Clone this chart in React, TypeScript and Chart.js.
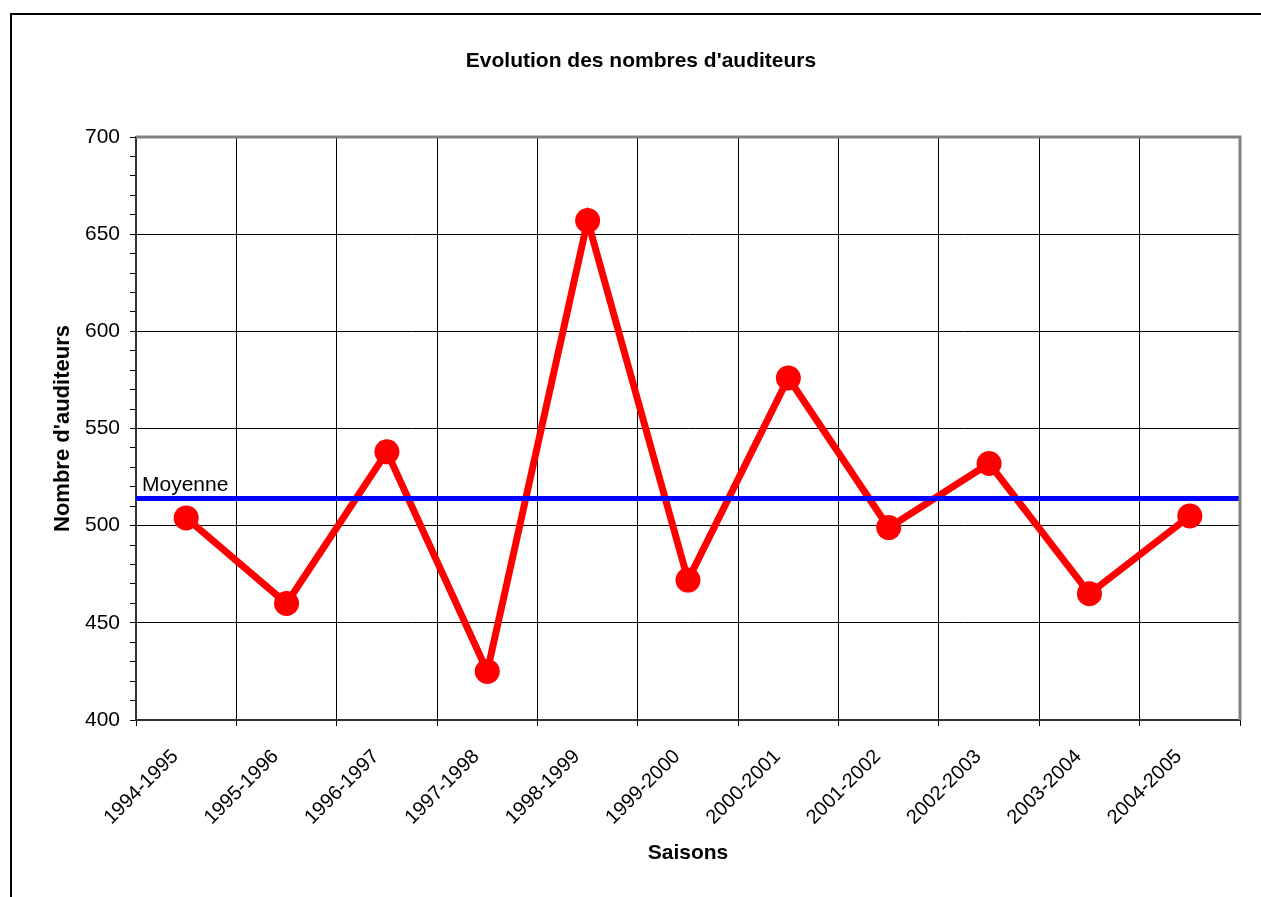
import React, { useEffect, useRef } from "react";
import { Chart, registerables } from "chart.js";

Chart.register(...registerables);

const seasons = [
  "1994-1995", "1995-1996", "1996-1997", "1997-1998", "1998-1999", "1999-2000",
  "2000-2001", "2001-2002", "2002-2003", "2003-2004", "2004-2005",
];
const listeners = [504, 460, 538, 425, 657, 472, 576, 499, 532, 465, 505];
const meanValue = 514;
const meanSpan = [0, 1];
const chartTitle = "Evolution des nombres d'auditeurs";
const meanLabel = "Moyenne";
const yTitle = "Nombre d'auditeurs";
const xTitle = "Saisons";
const yMin = 400;
const yMax = 700;
const yMinorStep = 10;
const yMajorStep = 50;

const FONT = "'Liberation Sans', Arial, sans-serif";

const decorPlugin = {
  id: "decor",
  beforeDraw(chart: any) {
    const ctx = chart.ctx;
    ctx.save();
    ctx.fillStyle = "#fff";
    ctx.fillRect(0, 0, chart.width, chart.height);
    ctx.restore();
  },
  afterDatasetsDraw(chart: any) {
    const ctx = chart.ctx;
    const { left, right, top, bottom } = chart.chartArea;
    const y = chart.scales.y;
    ctx.save();
    // plot area gray border (top & right)
    ctx.strokeStyle = "#808080";
    ctx.lineWidth = 3;
    ctx.beginPath();
    ctx.moveTo(left, top);
    ctx.lineTo(right, top);
    ctx.lineTo(right, bottom);
    ctx.stroke();
    // outer chart border
    ctx.strokeStyle = "#000";
    ctx.lineWidth = 2;
    ctx.beginPath();
    ctx.moveTo(11, chart.height + 10);
    ctx.lineTo(11, 14);
    ctx.lineTo(chart.width + 10, 14);
    ctx.stroke();
    // title
    ctx.fillStyle = "#000";
    ctx.font = `bold 21px ${FONT}`;
    ctx.textAlign = "center";
    ctx.textBaseline = "middle";
    ctx.fillText(chartTitle, 641, 61);
    // mean label
    ctx.font = `21px ${FONT}`;
    ctx.textAlign = "left";
    ctx.textBaseline = "alphabetic";
    ctx.fillText(meanLabel, left + 6, y.getPixelForValue(meanValue) - 7);
    ctx.restore();
  },
};

export default function App() {
  const ref = useRef<HTMLCanvasElement>(null);
  useEffect(() => {
    if (!ref.current) return;
    const chart = new Chart(ref.current, {
      type: "line",
      data: {
        labels: seasons,
        datasets: [
          {
            label: "Auditeurs",
            data: listeners,
            borderColor: "#ff0000",
            backgroundColor: "#ff0000",
            borderWidth: 7,
            pointRadius: 12.5,
            pointHoverRadius: 12.5,
            pointBorderWidth: 0,
            pointBackgroundColor: "#ff0000",
            tension: 0,
            order: 2,
          },
          {
            label: meanLabel,
            data: meanSpan.map((x) => ({ x, y: meanValue })),
            xAxisID: "x2",
            borderColor: "#0000ff",
            backgroundColor: "#0000ff",
            borderWidth: 5,
            pointRadius: 0,
            tension: 0,
            order: 1,
          } as any,
        ],
      },
      options: {
        animation: false,
        responsive: false,
        maintainAspectRatio: false,
        layout: { padding: { top: 137, right: 21, left: 0, bottom: 0 } },
        plugins: {
          legend: { display: false },
          title: { display: false },
          tooltip: { enabled: false },
        },
        scales: {
          x: {
            type: "category",
            offset: true,
            grid: {
              offset: true,
              color: "#000",
              lineWidth: 1,
              tickLength: 6,
              tickColor: "#000",
            },
            border: { color: "#333", width: 2 },
            ticks: {
              color: "#000",
              font: { family: FONT, size: 20 },
              minRotation: 45,
              maxRotation: 45,
              padding: 19,
              labelOffset: -11,
              autoSkip: false,
            },
            title: {
              display: true,
              text: xTitle,
              color: "#000",
              font: { family: FONT, size: 21, weight: "bold" },
              padding: { top: 0, bottom: 31 },
            },
            afterFit: (s: any) => {
              s.height = 177;
            },
          },
          x2: {
            type: "linear",
            display: false,
            min: 0,
            max: 1,
          },
          y: {
            type: "linear",
            min: yMin,
            max: yMax,
            grid: {
              color: (c: any) =>
                c.tick && c.tick.value % yMajorStep === 0 ? "#000" : "rgba(0,0,0,0)",
              tickColor: "#000",
              tickLength: 6,
              lineWidth: 1,
            },
            border: { color: "#333", width: 2 },
            ticks: {
              stepSize: yMinorStep,
              autoSkip: false,
              color: "#000",
              font: { family: FONT, size: 21 },
              padding: 10,
              callback: (v: any) => (Number(v) % yMajorStep === 0 ? String(v) : ""),
            },
            title: {
              display: true,
              text: yTitle,
              color: "#000",
              font: { family: FONT, size: 22, weight: "bold" },
              padding: { top: 50, bottom: 0 },
            },
            afterFit: (s: any) => {
              s.width = 136;
            },
          },
        },
      } as any,
      plugins: [decorPlugin],
    });
    return () => chart.destroy();
  }, []);
  return (
    <div style={{ position: "absolute", left: 0, top: 0, width: 1261, height: 897, overflow: "hidden" }}>
      <canvas ref={ref} width={1261} height={897} style={{ display: "block", width: 1261, height: 897 }} />
    </div>
  );
}
